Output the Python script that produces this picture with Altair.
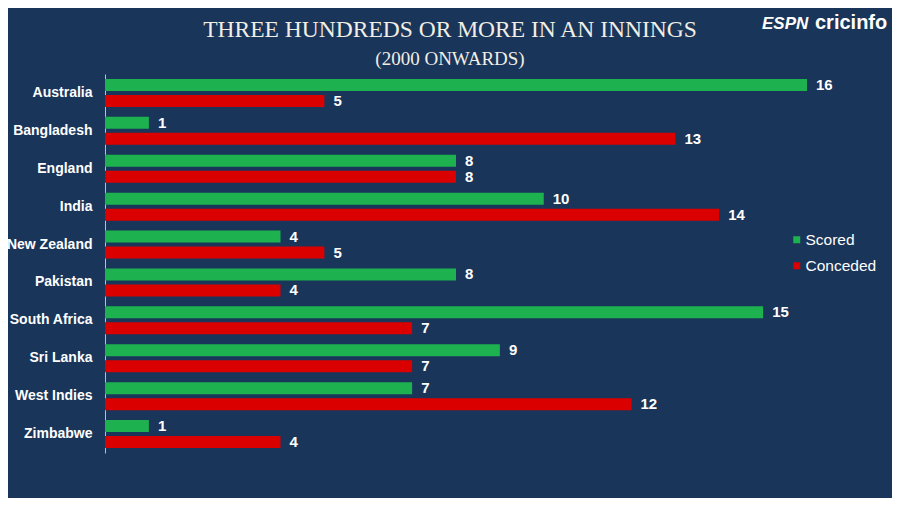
import altair as alt
import pandas as pd

countries = ["Australia", "Bangladesh", "England", "India", "New Zealand",
             "Pakistan", "South Africa", "Sri Lanka", "West Indies", "Zimbabwe"]
scored = [16, 1, 8, 10, 4, 8, 15, 9, 7, 1]
conceded = [5, 13, 8, 14, 5, 4, 7, 7, 12, 4]
series = ["Scored", "Conceded"]
colors = ["#1db24f", "#db0000"]
title_text = "THREE HUNDREDS OR MORE IN AN INNINGS"
subtitle_text = "(2000 ONWARDS)"

rows = []
for c, s, k in zip(countries, scored, conceded):
    rows.append({"country": c, "series": "Scored", "value": s})
    rows.append({"country": c, "series": "Conceded", "value": k})
df = pd.DataFrame(rows)

W, H = 702, 379
BG = "#193559"

y_enc = alt.Y("country:N", sort=countries,
              scale=alt.Scale(paddingInner=0, paddingOuter=0),
              axis=alt.Axis(title=None, ticks=False, labelPadding=13,
                            labelColor="white", labelFont="Liberation Sans",
                            labelFontSize=14, labelFontWeight="bold",
                            domainColor="#b8c0c8", domainWidth=1, grid=False))
yoff = alt.YOffset("series:N", sort=series,
                   scale=alt.Scale(paddingInner=0.25, paddingOuter=0.31))

base = alt.Chart(df)

bars = base.mark_bar().encode(
    y=y_enc,
    yOffset=yoff,
    x=alt.X("value:Q", scale=alt.Scale(domain=[0, 16]), axis=None),
    color=alt.Color("series:N", sort=series,
                    scale=alt.Scale(domain=series, range=colors),
                    legend=alt.Legend(title=None, orient="none",
                                      legendX=684, legendY=158,
                                      symbolType="square", symbolSize=49,
                                      symbolStrokeWidth=0,
                                      labelColor="white", labelFontSize=15.5,
                                      labelFont="Liberation Sans",
                                      rowPadding=9, labelOffset=1)),
)

labels = base.mark_text(align="left", baseline="middle", dx=9, color="white",
                        font="Liberation Sans", fontSize=15,
                        fontWeight="bold").encode(
    y=alt.Y("country:N", sort=countries),
    yOffset=alt.YOffset("series:N", sort=series),
    x=alt.X("value:Q"),
    text=alt.Text("value:Q"),
)

one = pd.DataFrame({"a": [1]})
espn = alt.Chart(one).mark_text(
    text="ESPN", align="left", baseline="alphabetic", color="white",
    font="Liberation Sans", fontSize=17, fontWeight="bold", fontStyle="italic",
).encode(x=alt.value(657), y=alt.value(-45))
cric = alt.Chart(one).mark_text(
    text="cricinfo", align="left", baseline="alphabetic", color="white",
    font="Liberation Sans", fontSize=20, fontWeight="bold",
).encode(x=alt.value(710), y=alt.value(-45))
title = alt.Chart(one).mark_text(
    text=title_text, align="center", baseline="alphabetic", color="#f2eee4",
    font="Liberation Serif", fontSize=23.5,
).encode(x=alt.value(345), y=alt.value(-37))
subtitle = alt.Chart(one).mark_text(
    text=subtitle_text, align="center", baseline="alphabetic", color="#f2eee4",
    font="Liberation Serif", fontSize=19,
).encode(x=alt.value(345), y=alt.value(-9))

chart = alt.layer(bars, labels, espn, cric, title, subtitle).properties(
    width=W, height=H,
    autosize=alt.AutoSizeParams(type="none"),
    padding={"left": 97, "top": 66, "right": 85, "bottom": 45},
    background=BG,
).configure_view(stroke=None)

chart.save("out.html", embed_options={"renderer": "svg", "actions": False})
